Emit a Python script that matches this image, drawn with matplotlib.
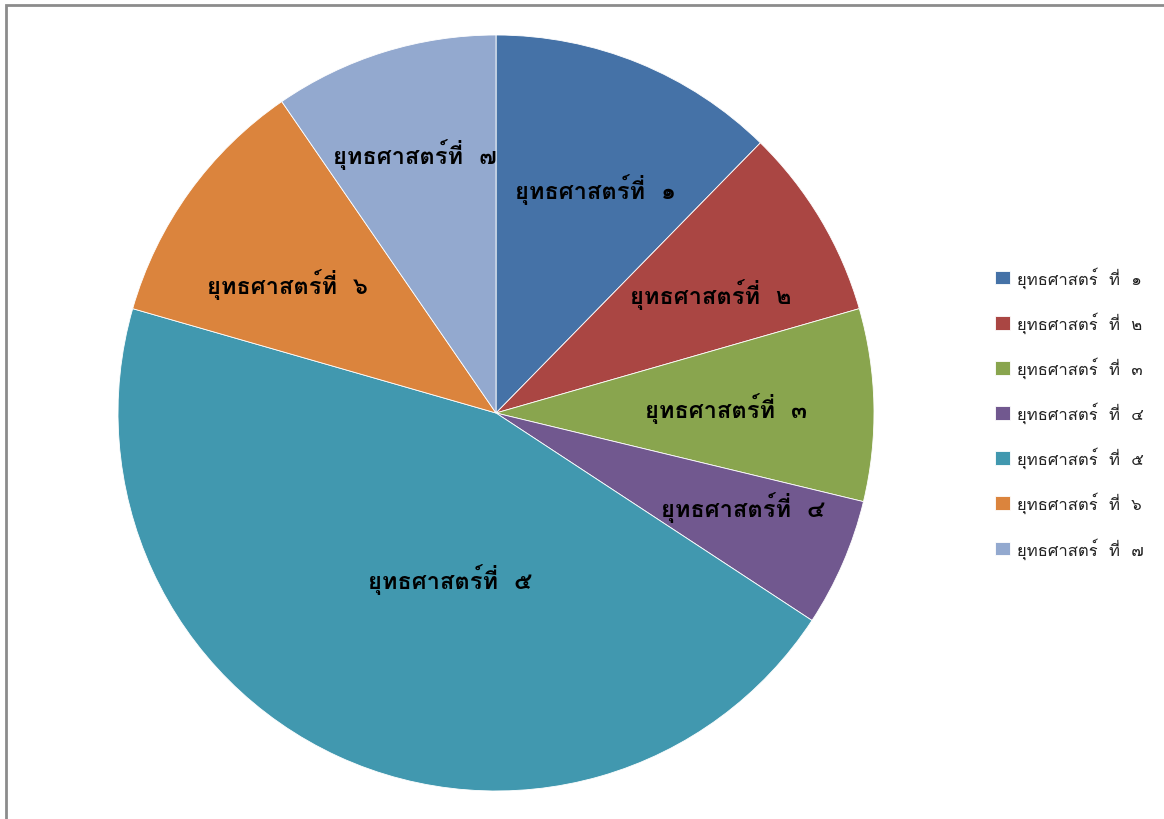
import numpy as np
import matplotlib
matplotlib.use("Agg")
import matplotlib.pyplot as plt
from matplotlib import font_manager, ft2font

# data
labels = ["ยุทธศาสตร์ที่  ๑", "ยุทธศาสตร์ที่  ๒", "ยุทธศาสตร์ที่  ๓", "ยุทธศาสตร์ที่  ๔",
          "ยุทธศาสตร์ที่  ๕", "ยุทธศาสตร์ที่  ๖", "ยุทธศาสตร์ที่  ๗"]
legend_labels = ["ยุทธศาสตร์  ที่  ๑", "ยุทธศาสตร์  ที่  ๒", "ยุทธศาสตร์  ที่  ๓", "ยุทธศาสตร์  ที่  ๔",
                 "ยุทธศาสตร์  ที่  ๕", "ยุทธศาสตร์  ที่  ๖", "ยุทธศาสตร์  ที่  ๗"]
values = [9, 6, 6, 4, 33, 8, 7]
colors = ["#4572A7", "#AA4643", "#89A54E", "#71588F", "#4198AF", "#DB843D", "#93A9CF"]

# label placement: fraction of radius and angle shift (deg, clockwise) from the wedge middle
label_r = [0.65, 0.65, 0.61, 0.70, 0.455, 0.65, 0.72]
label_shift = [1.8, 1.7, 0, -2.6, -9, -4, 0]

# pick a Thai font, Tahoma-like if there is one
thai_fonts = set()
for f in font_manager.fontManager.ttflist:
    try:
        if ft2font.FT2Font(f.fname).get_char_index(0x0E22):
            thai_fonts.add(f.name)
    except Exception:
        pass
pick = [n for n in ["Loma", "Tahoma", "Garuda", "Sarabun"] if n in thai_fonts]
if not pick and thai_fonts:
    pick = sorted(thai_fonts)[:1]
plt.rcParams["font.family"] = pick[:1] + ["DejaVu Sans"]

fig = plt.figure(figsize=(11.64, 8.2), dpi=100)
fig.patches.append(plt.Rectangle((6 / 1164, -0.01), 1.1, 1 - 6 / 820 + 0.01,
                                 transform=fig.transFigure, fill=False,
                                 edgecolor="#8c8c8c", linewidth=2))

cx, cy, R = 496, 414, 378
ax = fig.add_axes([(cx - R) / 1164, 1 - (cy + R) / 820, 2 * R / 1164, 2 * R / 820])
wedges, _ = ax.pie(values, colors=colors, startangle=90, counterclock=False,
                   wedgeprops=dict(edgecolor="white", linewidth=0.6))
ax.set_aspect("equal")
ax.set_xlim(-1, 1)
ax.set_ylim(-1, 1)

for w, lab, r, s in zip(wedges, labels, label_r, label_shift):
    ang = np.deg2rad((w.theta1 + w.theta2) / 2 - s)
    ax.text(r * np.cos(ang), r * np.sin(ang), lab, ha="center", va="center",
            fontsize=17, fontweight="bold", color="black")

fig.legend(wedges, legend_labels, loc="upper left", bbox_to_anchor=(980 / 1164, 1 - 252 / 820),
           frameon=False, fontsize=12, handlelength=0.9, handleheight=0.9,
           handletextpad=0.4, labelspacing=1.42, labelcolor="#222222")

fig.savefig("out.png", dpi=100)
